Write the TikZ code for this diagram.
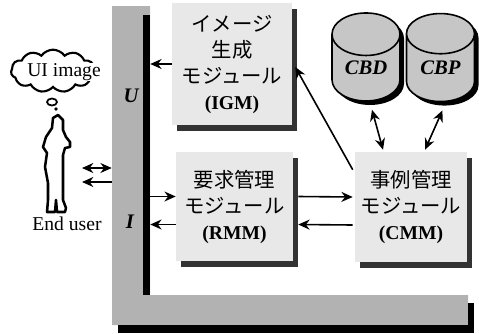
\documentclass[tikz,border=0pt]{standalone}
\usepackage{fontspec}
\setmainfont{Liberation Serif}
\newfontfamily\jp[Scale=1.04]{Noto Sans CJK JP}
\usetikzlibrary{arrows.meta,calc,fit,shadows,shapes.geometric,shapes.symbols}

\tikzset{
  module/.style={fill=gray!18, inner sep=0pt, align=center,
    font=\fontsize{14.7}{19.5}\selectfont\jp,
    drop shadow={shadow xshift=4pt, shadow yshift=-4.5pt, fill=black!80, opacity=1}},
  casebase/.style={shape=cylinder, shape border rotate=90, aspect=1, draw,
    line width=1.2pt, fill=gray!45, minimum width=51pt, minimum height=66pt,
    inner sep=0pt, font=\fontsize{15.5}{16}\selectfont\bfseries\itshape,
    drop shadow={shadow xshift=3pt, shadow yshift=-3pt, fill=black, opacity=1}},
  flow/.style={line width=1.2pt, -{Stealth[length=8.5pt,width=7.5pt]}},
  both/.style={line width=1.2pt, {Stealth[length=8.5pt,width=7.5pt]}-{Stealth[length=8.5pt,width=7.5pt]}},
}

\begin{document}
\begin{tikzpicture}[x=0.75pt, y=-0.75pt, font=\fontsize{14.7}{19.5}\selectfont]
  \useasboundingbox (0,0) rectangle (479,333);

  % user interface panel
  \fill[gray!60] (112,6) -- (150,6) -- (150,295) -- (468,295) -- (468,325) -- (112,325) -- cycle;
  \fill (143,15) rectangle (150,295);
  \fill (118,325) rectangle (474,333);
  \fill (468,303) rectangle (474,333);
  \node[fit={(112,6) (150,295)}, inner sep=0pt] (ui) {};
  \node[font=\fontsize{15.5}{16}\selectfont\bfseries\itshape] (uiU) at (131,96) {U};
  \node[font=\fontsize{15.5}{16}\selectfont\bfseries\itshape] (uiI) at (130,222) {I};

  % modules
  \node[module, minimum width=90pt, minimum height=91.5pt] (igm) at (232,64)
    {イメージ\\生成\\モジュール\\\rmfamily\bfseries (IGM)};
  \node[module, minimum width=87.75pt, minimum height=81.75pt] (rmm) at (234.5,206.5)
    {要求管理\\モジュール\\\rmfamily\bfseries (RMM)};
  \node[module, minimum width=84pt, minimum height=82.5pt] (cmm) at (411,207)
    {事例管理\\モジュール\\\rmfamily\bfseries (CMM)};

  % case bases
  \node[casebase] (cbd) at (366,68) {CBD};
  \node[casebase] (cbp) at (440.5,68) {CBP};

  % end user
  \node[cloud, cloud puffs=11, cloud puff arc=110, aspect=2.2, draw, line width=1.6pt,
    fill=white, minimum width=63pt, minimum height=32pt] (thought) at (53,71) {};
  \node[fill=white, inner sep=0pt] (idea) at (64,72) {UI image};
  \draw[line width=1.3pt] (52,102) ellipse (5 and 3.5);
  \fill (56,109) circle (1.8);
  \draw[line width=1.9pt, fill=white, line join=round]
    (58,115) -- (63,120) -- (63,130) -- (66,137) -- (70,142) -- (70,147) -- (65,148)
    -- (63,155) -- (63,200) -- (66,208) -- (65,212) -- (57,212) -- (56,200) -- (55,212)
    -- (47,212) -- (48,200) -- (48,183) -- (45,167) -- (47,153) -- (43,147) -- (46,137)
    -- (52,128) -- (53,118) -- cycle;
  \node[anchor=base] (enduser) at (67,230) {End user};
  \coordinate (say) at (82,168);
  \coordinate (hear) at (82,182);

  % connectors
  \draw[both] (say) -- (say -| ui.west);
  \draw[flow] (hear -| ui.west) -- (hear);
  \draw[flow] (igm.west) -- (igm.west -| ui.east);
  \draw[flow] ($(cmm.north west)+(-2,18)$) -- ($(igm.east)+(3,3)$);
  \draw[flow] ($(ui.east |- rmm.west)+(0,-10)$) -- ($(rmm.west)+(0,-10)$);
  \draw[flow] ($(rmm.west)+(0,18)$) -- ($(ui.east |- rmm.west)+(0,18)$);
  \draw[flow] ($(rmm.east)+(5,-10)$) -- ($(cmm.west)+(-2,-10)$);
  \draw[flow] ($(cmm.west)+(-2,18)$) -- ($(rmm.east)+(5,18)$);
  \draw[both] ($(cbd.south)+(6,8)$) -- ($(cmm.north)+(-28,-2)$);
  \draw[both] ($(cbp.south)+(2,8)$) -- ($(cmm.north)+(14,-2)$);
\end{tikzpicture}
\end{document}
